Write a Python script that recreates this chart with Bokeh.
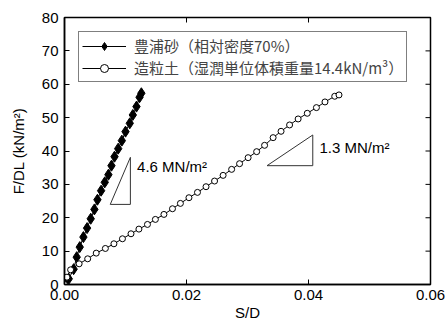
from bokeh.plotting import figure
from bokeh.models import Range1d, FixedTicker, NumeralTickFormatter, Legend, LegendItem, Label
from bokeh.embed import file_html
from bokeh.resources import INLINE

# Toyoura sand (relative density 70%)
sand_sd = [0.0, 0.0007, 0.0015, 0.0020, 0.0025, 0.0031, 0.0037, 0.0043, 0.0049, 0.0054,
           0.0060, 0.0066, 0.0072, 0.0077, 0.0082, 0.0088, 0.0094, 0.0100, 0.0107, 0.0112,
           0.0118, 0.0123, 0.0126]
sand_f = [0.0, 1.7, 4.6, 8.2, 11.2, 14.2, 16.9, 19.7, 22.5, 25.4,
          28.1, 30.6, 32.9, 35.6, 38.3, 40.7, 43.1, 45.8, 48.3, 50.8,
          53.3, 56.1, 57.3]

# Granulated soil (wet unit weight 14.4 kN/m3)
soil_sd = [0.0, 0.0004, 0.0010, 0.0024, 0.0038, 0.0052, 0.0067, 0.0081, 0.0095, 0.0109,
           0.0122, 0.0136, 0.0149, 0.0163, 0.0177, 0.0190, 0.0204, 0.0218, 0.0232, 0.0246,
           0.0260, 0.0274, 0.0287, 0.0301, 0.0315, 0.0328, 0.0342, 0.0355, 0.0369, 0.0383,
           0.0398, 0.0413, 0.0427, 0.0443, 0.0450]
soil_f = [0.0, 2.2, 4.4, 6.2, 7.7, 9.4, 10.8, 12.2, 13.7, 15.2,
          16.6, 18.0, 19.5, 21.0, 22.7, 24.3, 26.0, 27.6, 29.3, 31.0,
          32.7, 34.5, 36.2, 38.0, 39.8, 41.7, 44.0, 45.9, 47.8, 49.6,
          51.3, 53.0, 54.7, 56.4, 56.8]

x_ticks = [0.0, 0.02, 0.04, 0.06]
y_ticks = [0, 10, 20, 30, 40, 50, 60, 70, 80]

# slope triangles
tri1_sd = [0.0075, 0.0108, 0.0108, 0.0075]
tri1_f = [24.0, 24.0, 38.1, 24.0]
tri2_sd = [0.0332, 0.0407, 0.0407, 0.0332]
tri2_f = [35.6, 35.6, 44.8, 35.6]

slope_texts = ["4.6 MN/m²", "1.3 MN/m²"]
slope_sd = [0.0119, 0.0418]
slope_f = [35.3, 41.0]

legend_labels = ["豊浦砂（相対密度70%）", "造粒土（湿潤単位体積重量14.4kN/m³）"]

FONT = "Liberation Sans"
X0, X1 = 0.0, 0.06
Y0, Y1 = 0.0, 80.0
FW, FH = 366, 267   # frame size in px
TICK = 5            # tick length in px

p = figure(width=446, height=324, output_backend="svg", toolbar_location=None,
           x_range=Range1d(X0, X1), y_range=Range1d(Y0, Y1),
           min_border_left=64, min_border_right=16, min_border_top=17, min_border_bottom=40,
           background_fill_color="white", border_fill_color="white")
p.xgrid.visible = False
p.ygrid.visible = False
p.outline_line_color = "black"
p.outline_line_width = 1.5

def style_axis(ax):
    ax.axis_line_color = "black"
    ax.axis_line_width = 1.5
    ax.major_tick_in = TICK
    ax.major_tick_out = 0
    ax.minor_tick_line_color = None
    ax.major_tick_line_color = "black"
    ax.major_tick_line_width = 1
    ax.major_label_text_font = FONT
    ax.major_label_text_color = "black"
    ax.major_label_text_font_size = "15px"
    ax.axis_label_text_font = FONT
    ax.axis_label_text_font_size = "15px"
    ax.axis_label_text_font_style = "normal"
    ax.axis_label_text_color = "black"

xax = p.xaxis[0]
xax.ticker = FixedTicker(ticks=x_ticks)
xax.formatter = NumeralTickFormatter(format="0.00")
style_axis(xax)
xax.major_label_standoff = 5
xax.axis_label = "S/D"
xax.axis_label_standoff = 1

yax = p.yaxis[0]
yax.ticker = FixedTicker(ticks=y_ticks)
style_axis(yax)
yax.major_label_standoff = 6
yax.axis_label = "F/DL (kN/m²)"
yax.axis_label_standoff = 12

# inward ticks on the top and right frame edges (no labels there)
top_x = x_ticks[1:-1]
p.segment(x0=top_x, y0=[Y1] * len(top_x), x1=top_x,
          y1=[Y1 - (Y1 - Y0) * TICK / FH] * len(top_x), line_color="black", line_width=1)
right_y = y_ticks[1:-1]
p.segment(x0=[X1] * len(right_y), y0=right_y, x1=[X1 - (X1 - X0) * TICK / FW] * len(right_y),
          y1=right_y, line_color="black", line_width=1)

# slope triangles
p.line(tri1_sd, tri1_f, line_color="#333333", line_width=1)
p.line(tri2_sd, tri2_f, line_color="#333333", line_width=1)

for t, sx, fy in zip(slope_texts, slope_sd, slope_f):
    p.add_layout(Label(x=sx, y=fy, text=t, text_font=FONT, text_font_size="15px",
                       text_baseline="middle", text_align="left", text_color="black"))

# series
l1 = p.line(sand_sd, sand_f, line_color="black", line_width=1)
m1 = p.scatter(sand_sd, sand_f, marker="diamond", size=11, fill_color="black", line_color="black")
l2 = p.line(soil_sd, soil_f, line_color="black", line_width=1)
m2 = p.scatter(soil_sd, soil_f, marker="circle", size=6, fill_color="white", line_color="black", line_width=1)

legend = Legend(items=[LegendItem(label=legend_labels[0], renderers=[l1, m1]),
                       LegendItem(label=legend_labels[1], renderers=[l2, m2])],
                location="top_left", margin=14, padding=3, spacing=1,
                glyph_width=44, glyph_height=20, label_height=20, label_standoff=8,
                label_text_font="Noto Sans CJK JP", label_text_font_size="15px",
                label_text_baseline="middle",
                border_line_color="black", border_line_width=1,
                background_fill_color="white", background_fill_alpha=1)
p.add_layout(legend)

open("out.html", "w").write(file_html(p, INLINE))
